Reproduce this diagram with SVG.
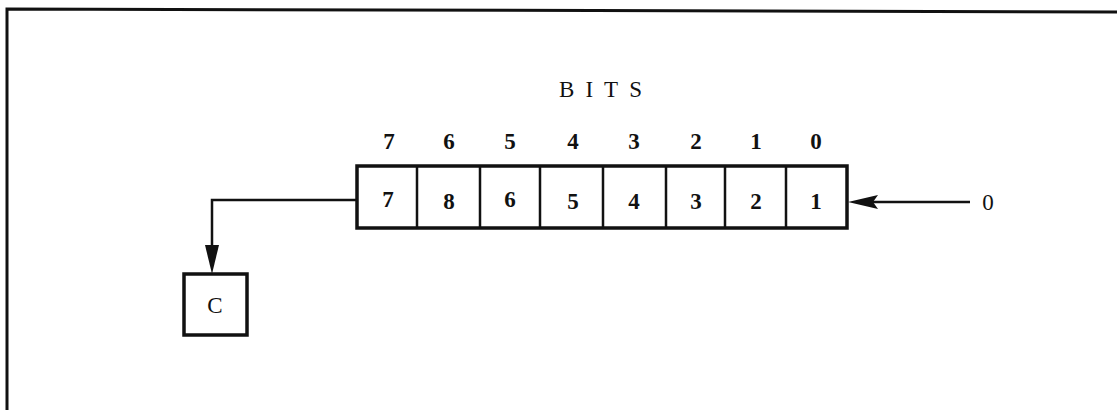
<svg xmlns="http://www.w3.org/2000/svg" width="1117" height="410" viewBox="0 0 1117 410">
<style>
.t{font-family:"Liberation Serif","DejaVu Serif",serif;font-size:23px;fill:#111;text-anchor:middle}
.b{font-weight:bold}
.box{fill:#fff;stroke:#111;stroke-width:3.5}
.ln{fill:none;stroke:#111;stroke-width:2.5}
</style>
<rect width="1117" height="410" fill="#fff"/>
<g id="frame">
<path d="M7,410 L7,9 L1117,12" fill="none" stroke="#111" stroke-width="3"/>
</g>
<g id="title"><text class="t" x="606" y="97" letter-spacing="11">BITS</text></g>
<g id="bitnums" class="t b">
<text x="389" y="149">7</text>
<text x="449" y="149">6</text>
<text x="510" y="149">5</text>
<text x="573" y="149">4</text>
<text x="634" y="149">3</text>
<text x="696" y="149">2</text>
<text x="756" y="149">1</text>
<text x="816" y="149">0</text>
</g>
<g id="register">
<rect class="box" x="357" y="166" width="490" height="62"/>
<path class="ln" d="M417,166V228M480,166V228M540,166V228M603,166V228M666,166V228M725,166V228M786,166V228"/>
<g class="t b">
<text x="388" y="207">7</text>
<text x="449" y="209">8</text>
<text x="510" y="207">6</text>
<text x="573" y="209">5</text>
<text x="634" y="209">4</text>
<text x="696" y="209">3</text>
<text x="756" y="209">2</text>
<text x="816" y="209">1</text>
</g>
</g>
<g id="carry">
<rect class="box" x="184" y="274" width="63" height="61"/>
<text class="t" x="215" y="313" font-size="25">C</text>
</g>
<g id="input"><text class="t" x="988" y="210" font-size="25">0</text></g>
<g id="connectors">
<path class="ln" d="M357,200 H212 V250"/>
<path d="M205,245 L212,274 L219,245 Z" fill="#111"/>
<path class="ln" d="M970,202 H870"/>
<path d="M848,202 L878,195 L873,202 L878,209 Z" fill="#111"/>
</g>
</svg>
